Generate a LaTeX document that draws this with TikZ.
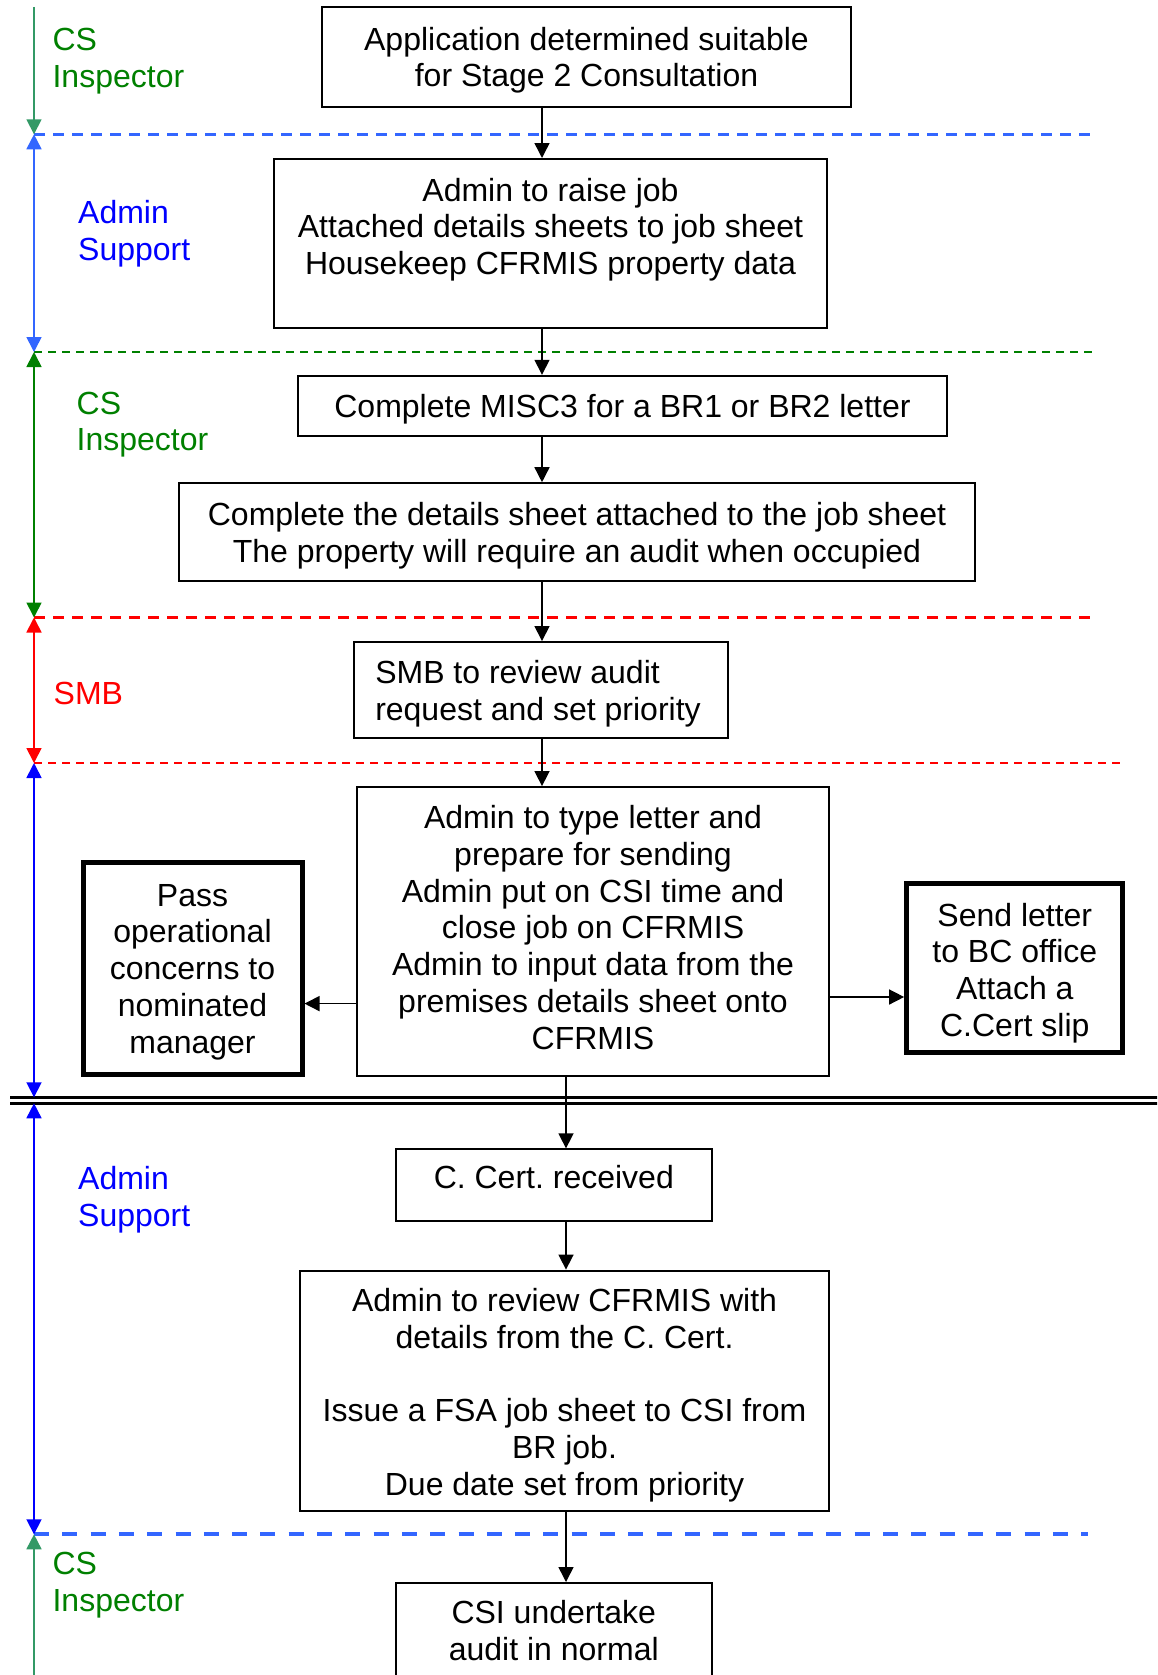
\documentclass[tikz,border=0pt]{standalone}
\usepackage{fontspec}
\setmainfont{Liberation Sans}
\usetikzlibrary{arrows.meta}
\definecolor{seagrn}{HTML}{339966}
\definecolor{lgreen}{HTML}{008000}
\definecolor{lblue}{HTML}{3366FF}
\definecolor{dblue}{HTML}{0000FF}
\definecolor{lred}{HTML}{FF0000}
\newcommand\tsA{\rule{0pt}{34pt}}
\newcommand\tsB{\rule{0pt}{36.5pt}}
\newcommand\tsC{\rule{0pt}{38.6pt}}
\newcommand\bsD{\rule[-18.4pt]{0pt}{0pt}}
\frenchspacing
\begin{document}
\begin{tikzpicture}[x=1pt,y=-1pt,
  every node/.style={font=\fontsize{32}{36.8}\selectfont\frenchspacing},
  box/.style={draw=black, line width=2pt, inner sep=0pt, align=center},
  thickbox/.style={box, line width=5pt},
  flow/.style={line width=1.5pt, -{Triangle[length=15pt,width=15pt]}},
  lanetip/.style={line width=1.7pt, {Triangle[length=15pt,width=15pt]}-{Triangle[length=15pt,width=15pt]}},
  laneend/.style={line width=1.7pt, -{Triangle[length=15pt,width=15pt]}},
  lanestart/.style={line width=1.7pt, {Triangle[length=15pt,width=15pt]}-},
  lanelbl/.style={anchor=north west, inner sep=0pt, align=left},
]
\useasboundingbox (0,0) rectangle (1157,1675);
\clip (0,0) rectangle (1157,1675);

% lane separators
\coordinate (s0) at (34,7);
\coordinate (s1) at (34,134.3);
\coordinate (s2) at (34,352);
\coordinate (s3) at (34,617.5);
\coordinate (s4) at (34,763);
\coordinate (s5a) at (34,1097.3);
\coordinate (s5b) at (34,1103.3);
\coordinate (s6) at (34,1534.3);
\coordinate (s7) at (34,1680);

\draw[lblue, line width=3pt, dash pattern=on 11pt off 8pt] (s1) -- (1091,134.3);
\draw[lgreen, line width=2pt, dash pattern=on 8pt off 6pt] (s2) -- (1092,352);
\draw[lred, line width=2.7pt, dash pattern=on 11pt off 8pt] (s3) -- (1091,617.5);
\draw[lred, line width=2pt, dash pattern=on 8.3pt off 5.7pt] (s4) -- (1120,763);
\draw[line width=2.5pt] (10,1097.3) -- (1160,1097.3);
\draw[line width=2.5pt] (10,1103.3) -- (1160,1103.3);
\draw[lblue, line width=4pt, dash pattern=on 15pt off 13.3pt] (s6) -- (1088,1534.3);

% lane arrows
\draw[laneend, seagrn] (s0) -- (s1);
\draw[lanetip, lblue] (s1) -- (s2);
\draw[lanetip, lgreen] (s2) -- (s3);
\draw[lanetip, lred] (s3) -- (s4);
\draw[lanetip, dblue] (s4) -- (s5a);
\draw[lanetip, dblue] (s5b) -- (s6);
\draw[lanestart, seagrn] (s6) -- (s7);

% lane labels
\node[lanelbl, text=lgreen] (l1) at (52.4,28) {CS\\Inspector};
\node[lanelbl, text=dblue] (l2) at (78,200) {Admin\\Support};
\node[lanelbl, text=lgreen] (l3) at (76.5,391.5) {CS\\Inspector};
\node[lanelbl, text=lred] (l4) at (53.5,682) {SMB};
\node[lanelbl, text=dblue] (l6) at (78,1166) {Admin\\Support};
\node[lanelbl, text=lgreen] (l7) at (52.4,1552) {CS\\Inspector};

% boxes
\node[box, minimum width=529pt, minimum height=100pt] (b1) at (586.5,57)
  {\tsA Application determined suitable\\for Stage 2 Consultation\strut};
\node[box, minimum width=553pt, minimum height=169pt] (b2) at (550.5,243.5)
  {\tsB Admin to raise job\\Attached details sheets to job sheet\\Housekeep CFRMIS property data\\\strut};
\node[box, minimum width=649pt, minimum height=60pt] (b3) at (622.5,405.8)
  {\tsA Complete MISC3 for a BR1 or BR2 letter\strut};
\node[box, minimum width=796pt, minimum height=98pt] (b4) at (577,532.2)
  {\tsA Complete the details sheet attached to the job sheet\\The property will require an audit when occupied\strut};
\node[box, align=left, minimum width=374.3pt, minimum height=96.3pt] (b5) at (541.2,690.2)
  {\tsA SMB to review audit\\request and set priority\strut\hspace*{6.4pt}};
\node[box, minimum width=472pt, minimum height=289pt] (b6) at (593,931.6)
  {\strut Admin to type letter and\\prepare for sending\\Admin put on CSI time and\\close job on CFRMIS\\Admin to input data from the\\premises details sheet onto\\CFRMIS\strut};
\node[thickbox, minimum width=219pt, minimum height=212pt] (b7) at (192.5,968.3)
  {\tsA Pass\\operational\\concerns to\\nominated\\manager\strut};
\node[thickbox, minimum width=216.3pt, minimum height=169pt] (b8) at (1014.8,967.5)
  {\tsC Send letter\\to BC office\\Attach a\\C.Cert slip\strut};
\node[box, minimum width=315.7pt, minimum height=71.7pt] (b9) at (553.8,1185.2)
  {\strut C. Cert. received\strut\bsD};
\node[box, minimum width=529pt, minimum height=240pt] (b10) at (564.5,1390.6)
  {\tsB Admin to review CFRMIS with\\details from the C. Cert.\\\mbox{}\\Issue a FSA job sheet to CSI from\\BR job.\\Due date set from priority\strut};
\node[box, minimum width=315.7pt, minimum height=104pt] (b11) at (553.8,1635)
  {\strut CSI undertake\\audit in normal\strut};

% connectors
\coordinate (sA) at (542,0);
\coordinate (sB) at (566,0);
\coordinate (yL) at (0,1003.6);
\coordinate (yR) at (0,997);
\draw[flow] (b1.south -| sA) -- (b2.north -| sA);
\draw[flow] (b2.south -| sA) -- (b3.north -| sA);
\draw[flow] (b3.south -| sA) -- (b4.north -| sA);
\draw[flow] (b4.south -| sA) -- (b5.north -| sA);
\draw[flow] (b5.south -| sA) -- (b6.north -| sA);
\draw[flow] (b6.west |- yL) -- (b7.east |- yL);
\draw[flow] (b6.east |- yR) -- (b8.west |- yR);
\draw[flow] (b6.south -| sB) -- (b9.north -| sB);
\draw[flow] (b9.south -| sB) -- (b10.north -| sB);
\draw[flow] (b10.south -| sB) -- (b11.north -| sB);
\end{tikzpicture}
\end{document}
